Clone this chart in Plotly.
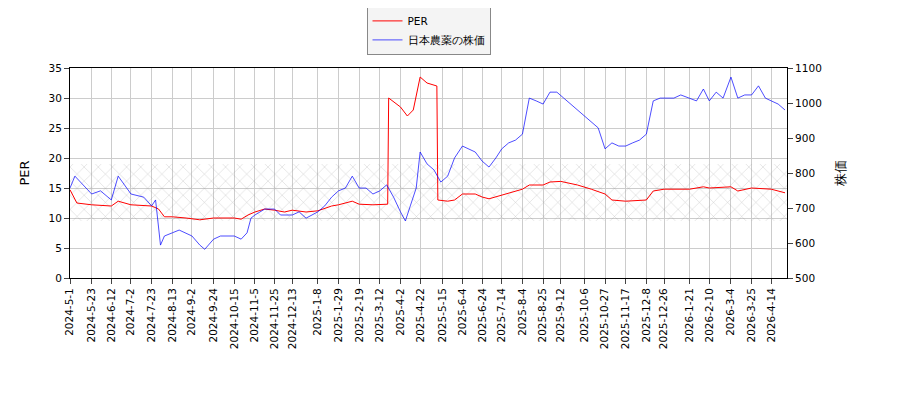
import plotly.graph_objects as go

# 日本農薬 株価 (weekly reading, yen)
price_dates = ["2024-05-01","2024-05-06","2024-05-23","2024-06-01","2024-06-12","2024-06-19","2024-07-02","2024-07-15","2024-07-23","2024-07-27",
               "2024-08-01","2024-08-05","2024-08-13","2024-08-20","2024-09-02","2024-09-10","2024-09-15","2024-09-24","2024-10-01","2024-10-15",
               "2024-10-22","2024-10-28","2024-11-01","2024-11-05","2024-11-15","2024-11-25","2024-12-01","2024-12-13","2024-12-20","2024-12-27",
               "2025-01-08","2025-01-15","2025-01-22","2025-01-29","2025-02-05","2025-02-12","2025-02-19","2025-02-26","2025-03-05","2025-03-12",
               "2025-03-19","2025-03-26","2025-04-02","2025-04-07","2025-04-12","2025-04-18","2025-04-22","2025-04-29","2025-05-06","2025-05-13",
               "2025-05-20","2025-05-27","2025-06-04","2025-06-10","2025-06-17","2025-06-24","2025-07-01","2025-07-08","2025-07-14","2025-07-21",
               "2025-07-28","2025-08-04","2025-08-11","2025-08-18","2025-08-25","2025-09-01","2025-09-08","2025-09-15","2025-09-22","2025-09-29",
               "2025-10-06","2025-10-13","2025-10-20","2025-10-27","2025-11-03","2025-11-10","2025-11-17","2025-11-24","2025-12-01","2025-12-08",
               "2025-12-15","2025-12-22","2025-12-26","2026-01-05","2026-01-12","2026-01-21","2026-01-28","2026-02-04","2026-02-10","2026-02-17",
               "2026-02-24","2026-03-04","2026-03-11","2026-03-18","2026-03-25","2026-04-01","2026-04-08","2026-04-14","2026-04-21","2026-04-28"]
price = [757,791,740,749,723,791,740,731,706,723,
         594,620,629,637,620,594,582,611,620,620,
         611,629,671,680,697,697,680,680,689,671,
         689,706,731,749,757,791,757,757,740,749,
         766,731,689,663,706,757,860,826,809,774,
         791,843,877,869,860,834,817,843,869,886,
         894,911,1014,1006,997,1031,1031,1014,997,980,
         963,946,929,869,886,877,877,886,894,911,
         1006,1014,1014,1014,1023,1014,1006,1040,1006,1031,
         1014,1074,1014,1023,1023,1049,1014,1006,997,980]

# PER
per_dates = ["2024-05-01","2024-05-08","2024-05-23","2024-06-12","2024-06-19","2024-07-02","2024-07-23","2024-07-30","2024-08-05","2024-08-13",
             "2024-08-27","2024-09-10","2024-09-24","2024-10-15","2024-10-22","2024-10-29","2024-11-05","2024-11-15","2024-11-25","2024-12-05",
             "2024-12-13","2024-12-27","2025-01-08","2025-01-22","2025-01-29","2025-02-12","2025-02-19","2025-03-05","2025-03-20","2025-03-21",
             "2025-04-02","2025-04-09","2025-04-15","2025-04-22","2025-04-29","2025-05-09","2025-05-10","2025-05-20","2025-05-27","2025-06-04",
             "2025-06-17","2025-06-24","2025-07-01","2025-07-14","2025-07-28","2025-08-04","2025-08-11","2025-08-25","2025-09-01","2025-09-12",
             "2025-09-29","2025-10-06","2025-10-13","2025-10-27","2025-11-03","2025-11-17","2025-12-08","2025-12-15","2025-12-26","2026-01-21",
             "2026-02-04","2026-02-10","2026-03-04","2026-03-11","2026-03-25","2026-04-14","2026-04-28"]
per = [14.7,12.5,12.2,12.0,12.8,12.2,12.0,11.5,10.2,10.2,
       10.0,9.7,10.0,10.0,9.8,10.5,11.0,11.5,11.3,11.0,
       11.3,11.0,11.2,12.0,12.2,12.8,12.3,12.2,12.3,30.0,
       28.5,27.0,28.0,33.5,32.5,32.0,13.0,12.8,13.0,14.0,
       14.0,13.5,13.2,13.8,14.5,14.8,15.5,15.5,16.0,16.1,
       15.5,15.2,14.8,14.0,13.0,12.8,13.0,14.5,14.8,14.8,
       15.2,15.0,15.2,14.5,15.0,14.8,14.2]

band_low, band_high = 9.5, 19.0
x_start, x_end = "2024-05-01", "2026-04-30"

tick_dates = ["2024-05-01","2024-05-23","2024-06-12","2024-07-02","2024-07-23","2024-08-13","2024-09-02","2024-09-24",
              "2024-10-15","2024-11-05","2024-11-25","2024-12-13","2025-01-08","2025-01-29","2025-02-19","2025-03-12",
              "2025-04-02","2025-04-22","2025-05-15","2025-06-04","2025-06-24","2025-07-14","2025-08-04","2025-08-25",
              "2025-09-12","2025-10-06","2025-10-27","2025-11-17","2025-12-08","2025-12-26","2026-01-21","2026-02-10",
              "2026-03-04","2026-03-25","2026-04-14"]
tick_text = ["-".join(str(int(p)) for p in d.split("-")) for d in tick_dates]

fig = go.Figure()

# hatched PER band
fig.add_trace(go.Scatter(x=[x_start, x_end, x_end, x_start, x_start],
                         y=[band_low, band_low, band_high, band_high, band_low],
                         fill="toself", mode="lines", line=dict(width=0),
                         fillcolor="rgba(0,0,0,0)",
                         fillpattern=dict(shape="x", fgcolor="#888888", bgcolor="rgba(0,0,0,0)", size=10, solidity=0.08),
                         showlegend=False, hoverinfo="skip"))

fig.add_trace(go.Scatter(x=per_dates, y=per, mode="lines", name="PER", line=dict(color="red", width=1)))
fig.add_trace(go.Scatter(x=price_dates, y=price, mode="lines", name="日本農薬の株価",
                         line=dict(color="blue", width=0.7), yaxis="y2"))

fig.update_layout(
    width=900, height=400,
    margin=dict(l=62, r=121, t=60, b=130, autoexpand=False),
    plot_bgcolor="white", paper_bgcolor="white",
    font=dict(family="DejaVu Sans", size=10.5, color="black"),
    legend=dict(x=0.5, y=1.06, xanchor="center", yanchor="bottom", bgcolor="#f4f4f4",
                bordercolor="#888888", borderwidth=1),
    xaxis=dict(range=[x_start, x_end], tickvals=tick_dates, ticktext=tick_text, tickangle=-90,
               showgrid=True, gridcolor="#cccccc", ticks="outside", showline=True, linecolor="black",
               mirror=True),
    yaxis=dict(title="PER", range=[0, 35], dtick=5, showgrid=True, gridcolor="#cccccc",
               ticks="outside", showline=True, linecolor="black", zeroline=False),
    yaxis2=dict(title="株価", range=[500, 1100], dtick=100, overlaying="y", side="right",
                showgrid=False, ticks="outside", showline=True, linecolor="black", zeroline=False),
)

fig.write_html("out.html")
